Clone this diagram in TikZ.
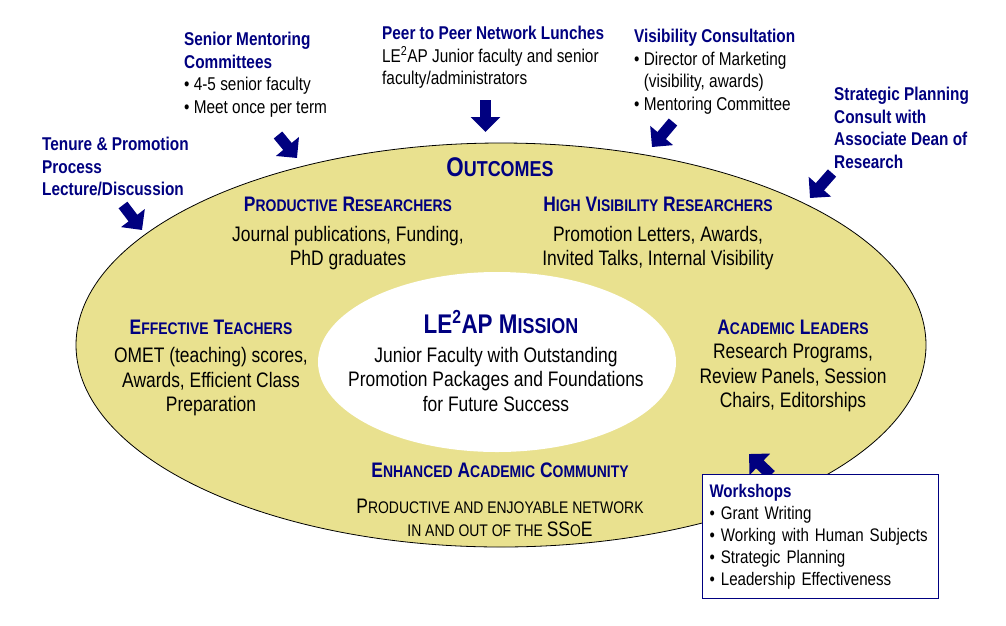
\documentclass[tikz,border=0pt]{standalone}
\usepackage{fontspec}
\setmainfont{Liberation Sans}[FakeStretch=0.83]
\usetikzlibrary{arrows.meta,shapes.geometric}

\definecolor{deepnavy}{RGB}{0,0,128}
\definecolor{khaki}{RGB}{233,225,143}

\makeatletter
% fake small capitals
\newcommand{\lc}[1]{{\fontsize{\fpeval{0.8*\f@size}}{\f@baselineskip}\selectfont #1}}
\makeatother
\newcommand{\topic}[1]{{\color{deepnavy}\bfseries #1}}

\begin{document}
\begin{tikzpicture}[
	x=1pt, y=-1pt,
	every node/.style={inner sep=0pt},
	outerring/.style={ellipse, draw=black, line width=0.8pt, fill=khaki, minimum width=850pt, minimum height=404pt},
	missionfill/.style={ellipse, fill=white, minimum width=358pt, minimum height=180pt},
	headtxt/.style={text=deepnavy, font=\bfseries\fontsize{21}{25}\selectfont},
	bigtxt/.style={text=deepnavy, font=\bfseries\fontsize{27}{32}\selectfont},
	bodytxt/.style={align=center, font=\fontsize{21}{24.5}\selectfont},
	sidetxt/.style={align=left, anchor=north west, font=\fontsize{18.5}{22.5}\selectfont},
	blockarrow/.style={deepnavy, line width=11pt, -{Triangle[width=29pt,length=15pt]}}
	]
	\path[fill=white, use as bounding box] (0,0) rectangle (1006,625);

	\node[outerring]  (ring) at (501,345)  {};
	\node[missionfill]  (core) at (497,362)  {};

	\node[bigtxt]  (outc) at (500,167)  {O\lc{UTCOMES}};
	\node[headtxt]  (prodh) at (348,204)  {P\lc{RODUCTIVE} R\lc{ESEARCHERS}};
	\node[bodytxt]  (prodb) at (348,248)  {Journal publications, Funding,\\PhD graduates};
	\node[headtxt]  (vish) at (658,204)  {H\lc{IGH} V\lc{ISIBILITY} R\lc{ESEARCHERS}};
	\node[bodytxt]  (visb) at (658,248)  {Promotion Letters, Awards,\\Invited Talks, Internal Visibility};
	\node[headtxt]  (teachh) at (211,327)  {E\lc{FFECTIVE} T\lc{EACHERS}};
	\node[bodytxt]  (teachb) at (211,382)  {OMET (teaching) scores,\\Awards, Efficient Class\\Preparation};
	\node[bigtxt]  (missh) at (501,322)  {LE\textsuperscript{2}AP M\lc{ISSION}};
	\node[bodytxt]  (missb) at (496,379)  {Junior Faculty with Outstanding\\Promotion Packages and Foundations\\for Future Success};
	\node[headtxt]  (leadh) at (793,327)  {A\lc{CADEMIC} L\lc{EADERS}};
	\node[bodytxt]  (leadb) at (793,378)  {Research Programs,\\Review Panels, Session\\Chairs, Editorships};
	\node[headtxt]  (commh) at (500,470)  {E\lc{NHANCED} A\lc{CADEMIC} C\lc{OMMUNITY}};
	\node[bodytxt, font=\fontsize{21}{23.5}\selectfont]  (commb) at (500,518)  {P\lc{RODUCTIVE AND ENJOYABLE NETWORK}\\\lc{IN AND OUT OF THE }SS\lc{O}E};

	\node[sidetxt]  (tenure) at (42,137)  {\topic{Tenure \& Promotion}\\\topic{Process}\\\topic{Lecture/Discussion}};
	\node[sidetxt]  (senior) at (184,32)  {\topic{Senior Mentoring}\\\topic{Committees}\\\textbullet\ 4-5 senior faculty\\\textbullet\ Meet once per term};
	\node[sidetxt]  (peer) at (382,26)  {\topic{Peer to Peer Network Lunches}\\LE\textsuperscript{2}AP Junior faculty and senior\\faculty/administrators};
	\node[sidetxt]  (visib) at (634,29)  {\topic{Visibility Consultation}\\\textbullet\ Director of Marketing\\\hphantom{\textbullet\ }(visibility, awards)\\\textbullet\ Mentoring Committee};
	\node[sidetxt]  (strat) at (834,87)  {\topic{Strategic Planning}\\\topic{Consult with}\\\topic{Associate Dean of}\\\topic{Research}};

	\coordinate  (t1) at (123,205);
	\coordinate  (h1) at (142,230);
	\coordinate  (t2) at (278,135);
	\coordinate  (h2) at (297,158);
	\coordinate  (t3) at (485.5,100);
	\coordinate  (h3) at (485.5,132);
	\coordinate  (t4) at (673,122);
	\coordinate  (h4) at (652,147);
	\coordinate  (t5) at (832,173);
	\coordinate  (h5) at (810,198);
	\coordinate  (t6) at (771,475);
	\coordinate  (h6) at (749,454);
	\path[draw, blockarrow]  (t1) -- (h1);
	\path[draw, blockarrow]  (t2) -- (h2);
	\path[draw, blockarrow]  (t3) -- (h3);
	\path[draw, blockarrow]  (t4) -- (h4);
	\path[draw, blockarrow]  (t5) -- (h5);
	\path[draw, blockarrow]  (t6) -- (h6);

	\node[draw=deepnavy, line width=1pt, fill=white, anchor=north west, align=left, text width=222pt, inner xsep=7pt, minimum height=124pt, font=\fontsize{18.2}{22}\selectfont]  (shops) at (702,474)  {\topic{Workshops}\\\textbullet\ Grant Writing\\\textbullet\ Working with Human Subjects\\\textbullet\ Strategic Planning\\\textbullet\ Leadership Effectiveness};
\end{tikzpicture}
\end{document}
